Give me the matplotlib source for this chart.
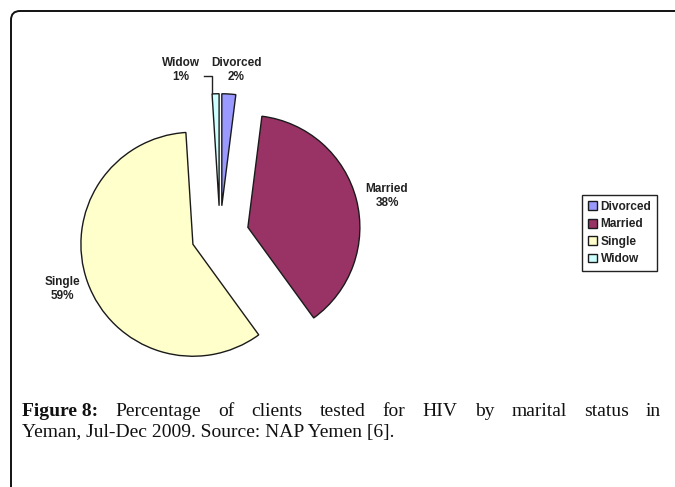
import matplotlib.pyplot as plt
from matplotlib.patches import FancyBboxPatch

# data
labels = ["Divorced", "Married", "Single", "Widow"]
values = [2, 38, 59, 1]
colors = ["#9999FF", "#993366", "#FFFFCC", "#CCFFFF"]

caption_bold = "Figure 8:"
caption_line1 = "Percentage of clients tested for HIV by marital status in"
caption_line2 = "Yeman, Jul-Dec 2009. Source: NAP Yemen [6]."

W, H = 675, 487
fig = plt.figure(figsize=(W / 100, H / 100), dpi=100)
ax = fig.add_axes([0, 0, 1, 1])

# pie in pixel coordinates (y up)
cx, cy, r = 220, H - 234.5, 112
wedges, _ = ax.pie(values, explode=[0.257 * r] * len(values), colors=colors,
                   startangle=90, counterclock=False, center=(cx, cy), radius=r,
                   wedgeprops=dict(edgecolor="#1a1a1a", linewidth=1.0))
ax.set_xlim(0, W)
ax.set_ylim(0, H)
ax.set_aspect("auto")
ax.axis("off")

# outer rounded frame
frame = FancyBboxPatch((11, -40), 720, H - 11 + 40, boxstyle="round,pad=0,rounding_size=9",
                       facecolor="none", edgecolor="#111111", linewidth=1.4)
ax.add_patch(frame)

lab_font = dict(family="Liberation Sans", fontsize=8.5, fontweight="bold", color="#222222")
lab_pos = {"Divorced": (236, 70), "Married": (387, 196),
           "Single": (62, 289), "Widow": (181, 70)}
for name, v in zip(labels, values):
    x, y = lab_pos[name]
    ax.text(x, H - y, f"{name}\n{v}%", ha="center", va="center", linespacing=1.15, **lab_font)

# widow leader line
ax.plot([204, 212, 212], [H - 76, H - 76, H - 93], color="#222222", lw=1)

leg = ax.legend(wedges, labels, loc="upper left", bbox_to_anchor=(582, H - 195),
                bbox_transform=ax.transData, borderaxespad=0, frameon=True,
                fancybox=False, edgecolor="#222222", framealpha=1,
                handlelength=0.75, handleheight=0.75, handletextpad=0.3,
                labelspacing=0.45, borderpad=0.5,
                prop=dict(family="Liberation Sans", size=8.6, weight="bold"))
leg.get_frame().set_linewidth(1.0)
for t in leg.get_texts():
    t.set_color("#222222")

# caption, first line justified
cap_font = dict(family="Liberation Serif", fontsize=14, color="#111111")
renderer = fig.canvas.get_renderer()
x0, x1, y1, y2 = 22, 661, H - 411, H - 432
t0 = ax.text(x0, y1, caption_bold, va="center", ha="left", fontweight="bold", **cap_font)
w0 = t0.get_window_extent(renderer).width
words = caption_line1.split()
texts = [ax.text(0, y1, w, va="center", ha="left", **cap_font) for w in words]
widths = [t.get_window_extent(renderer).width for t in texts]
gap = (x1 - x0 - w0 - sum(widths)) / len(words)
x = x0 + w0 + gap
for t, w in zip(texts, widths):
    t.set_x(x)
    x += w + gap
ax.text(x0, y2, caption_line2, va="center", ha="left", **cap_font)

fig.savefig("out.png", dpi=100)
